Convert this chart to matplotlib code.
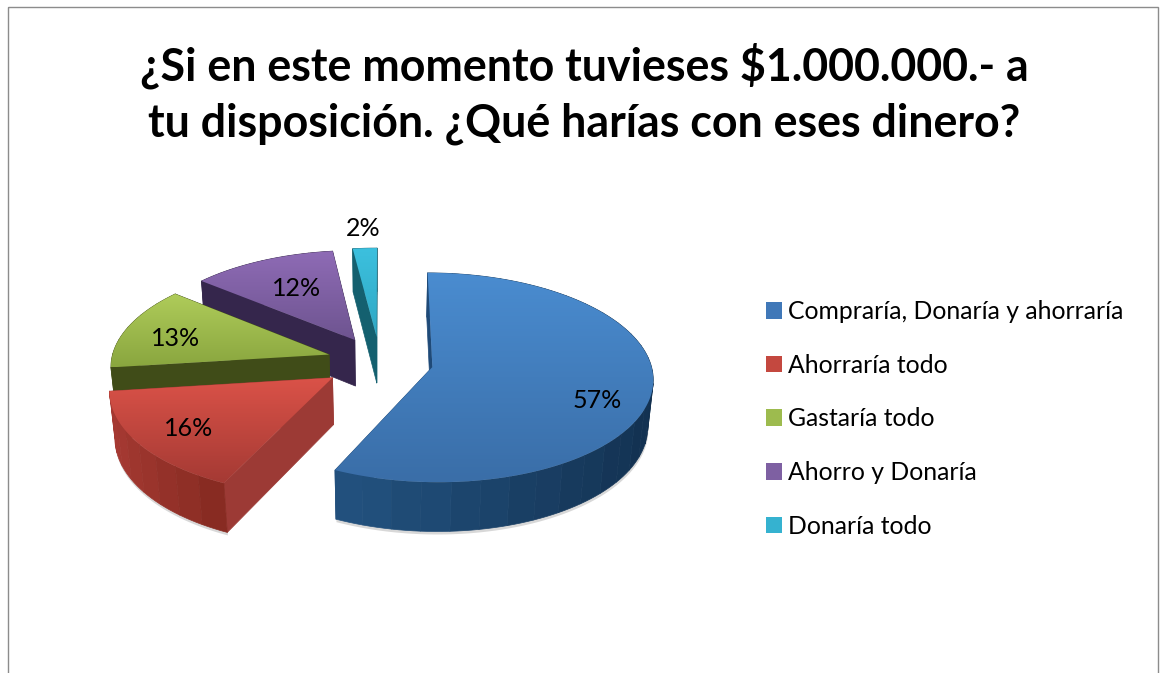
import numpy as np
import matplotlib
matplotlib.use("Agg")
import matplotlib.pyplot as plt
from matplotlib.collections import PolyCollection
from matplotlib.colors import LinearSegmentedColormap, to_rgb
from matplotlib.patches import Polygon, Patch, Rectangle

title = "¿Si en este momento tuvieses $1.000.000.- a\ntu disposición. ¿Qué harías con eses dinero?"
categories = ["Compraría, Donaría y ahorraría", "Ahorraría todo", "Gastaría todo",
              "Ahorro y Donaría", "Donaría todo"]
values = [57, 16, 13, 12, 2]

# Styles
top_light = ["#4A8CD0", "#DA5248", "#AFCC5A", "#8E6BB5", "#3CC0DE"]
top_dark = ["#3A6EA8", "#A53A34", "#8AA63F", "#6E5490", "#2FA8C4"]
rim_a = ["#2A6094", "#A83B34", "#4C5A1C", "#3A2A50", "#1A6D80"]
rim_b = ["#12304F", "#82281F", "#404C18", "#2E1F42", "#0F4F5C"]
rim_span = [2.0, 0.62, 2.0, 2.0, 2.0]
face_col = ["#1F4A78", "#9C3A35", "#404C18", "#35264C", "#14606F"]
legend_col = ["#4078B8", "#C4483F", "#9DBB4E", "#7E60A2", "#35B2D0"]
label_xy = [(597, 401), (189, 429), (176, 338), (297, 288), (363, 229)]
explode = [0.245, 0.265, 0.245, 0.245, 0.245]

# Projection of the pie plane onto the picture
CX, CY, A, B, K, DEPTH, ZS = 380, 361.5, 218, 102.5, 0.10, 47.5, 0.02


def project(X, Y, low=False):
    s = 1 + K * np.asarray(Y)
    if low:
        return CX + A * X / (s + ZS), CY + (-B * Y + DEPTH) / (s + ZS)
    return CX + A * X / s, CY - B * Y / s


fig = plt.figure(figsize=(11.62, 6.73), dpi=100, facecolor="white")
ax = fig.add_axes([0, 0, 1, 1])
ax.set_axis_off()

ax.add_patch(Rectangle((8, 7), 1150, 700, fill=False, ec="#8C8C8C", lw=1.0, zorder=0))

total = sum(values)
edges = 90 - np.cumsum([0] + values) / total * 360.0
order = np.arange(len(values))[::-1]

for z, i in enumerate(order):
    t0, t1 = edges[i], edges[i + 1]
    mid = np.radians((t0 + t1) / 2)
    ox, oy = explode[i] * np.cos(mid), explode[i] * np.sin(mid)
    th = np.radians(np.linspace(t0, t1, max(int(abs(t1 - t0) / 1.0), 4)))
    rx, ry = ox + np.cos(th), oy + np.sin(th)
    base = 10 + z * 10

    # soft contact shadow under the body
    lx, ly = project(rx, ry, low=True)
    ax.fill_between(lx, ly - 4, ly + 2.5, color="#B8B8B8", alpha=0.55, lw=0, zorder=base - 1)

    # side walls, back to front
    polys, cols = [], []
    for end in (t0, t1):
        e = np.radians(end)
        ex, ey = ox + np.cos(e), oy + np.sin(e)
        u1 = project(np.array(ox), np.array(oy))
        u2 = project(np.array(ex), np.array(ey))
        l1 = project(np.array(ox), np.array(oy), True)
        l2 = project(np.array(ex), np.array(ey), True)
        polys.append([u1, u2, l2, l1])
        cols.append((to_rgb(face_col[i]), (oy + ey) / 2))
    band = 7
    nb = max(int(abs(t1 - t0) / band), 1)
    bt = np.radians(np.linspace(t0, t1, nb + 1))
    rgb_a, rgb_b = np.array(to_rgb(rim_a[i])), np.array(to_rgb(rim_b[i]))
    for j in range(nb):
        a0, a1 = bt[j], bt[j + 1]
        sub = np.linspace(a0, a1, 5)
        sx, sy = ox + np.cos(sub), oy + np.sin(sub)
        ux, uy = project(sx, sy)
        dx, dy = project(sx, sy, True)
        poly = list(zip(ux, uy)) + list(zip(dx[::-1], dy[::-1]))
        f = (np.cos((a0 + a1) / 2) + 1) / rim_span[i]
        f = np.clip(f + 0.012 * ((-1) ** j), 0, 1)
        polys.append(poly)
        cols.append((tuple(rgb_a * (1 - f) + rgb_b * f), sy.mean()))
    idx = np.argsort([-c[1] for c in cols])
    ax.add_collection(PolyCollection([np.array(polys[k]) for k in idx],
                                     facecolors=[cols[k][0] for k in idx],
                                     edgecolors=[cols[k][0] for k in idx],
                                     linewidths=0.5, zorder=base))

    # top surface with a vertical gradient, clipped to the slice
    tx, ty = project(np.r_[ox, rx], np.r_[oy, ry])
    clip = Polygon(np.c_[tx, ty], closed=True, transform=ax.transData, fc="none", ec="none")
    ax.add_patch(clip)
    cmap = LinearSegmentedColormap.from_list("s", [top_light[i], top_dark[i]])
    im = ax.imshow(np.linspace(0, 1, 64)[:, None], cmap=cmap, aspect="auto",
                   extent=(tx.min(), tx.max(), ty.max(), ty.min()), zorder=base + 1,
                   interpolation="bilinear")
    im.set_clip_path(clip)

ax.set_xlim(0, 1162)
ax.set_ylim(673, 0)

for v, (x, y) in zip(values, label_xy):
    ax.text(x, y, f"{v}%", ha="center", va="center", fontsize=18, family="Lato",
            color="black", zorder=200)

ax.text(584, 94, title, ha="center", va="center", fontsize=32.2, fontweight="bold",
        family="Lato", color="black", linespacing=1.41, zorder=200)

handles = [Patch(facecolor=c, edgecolor="none") for c in legend_col]
leg = ax.legend(handles, categories, loc="upper left", bbox_to_anchor=(766 / 1162, 1 - 300 / 673),
                bbox_transform=fig.transFigure, frameon=False,
                prop={"family": "Lato", "size": 17.8}, handlelength=0.65, handleheight=0.65,
                handletextpad=0.24, labelspacing=1.24, borderpad=0, borderaxespad=0)
leg.set_zorder(200)

fig.savefig("out.png", dpi=100)
